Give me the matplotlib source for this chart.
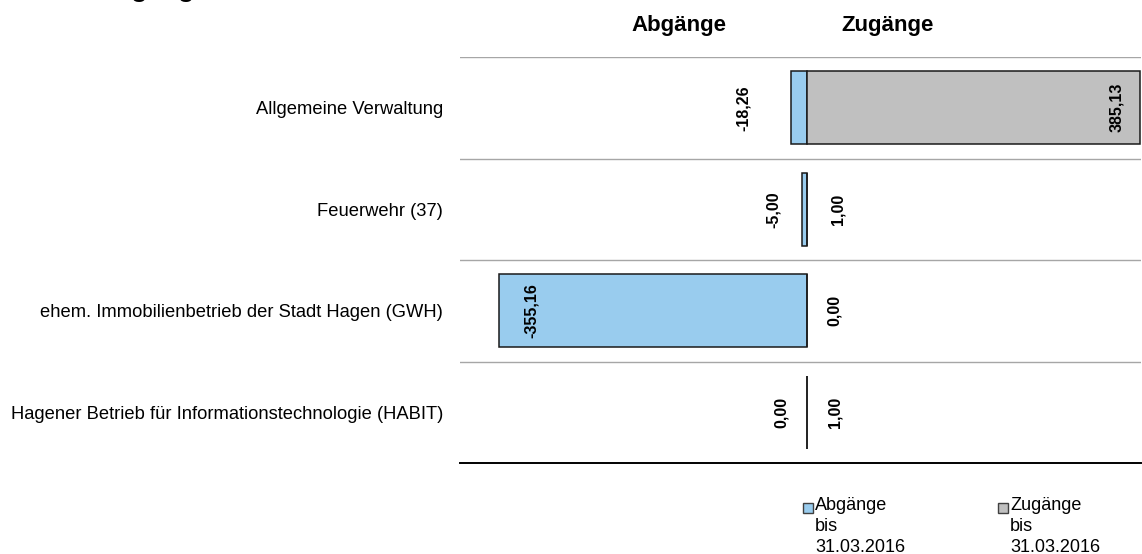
import matplotlib
matplotlib.use('Agg')
import matplotlib.pyplot as plt
from matplotlib.patches import Rectangle
import numpy as np

plt.rcParams['font.family'] = ['Liberation Sans', 'DejaVu Sans']

# Daten
kategorien = ['Allgemeine Verwaltung',
              'Feuerwehr (37)',
              'ehem. Immobilienbetrieb der Stadt Hagen (GWH)',
              'Hagener Betrieb für Informationstechnologie (HABIT)']
abgaenge = [-18.26, -5.00, -355.16, 0.00]
zugaenge = [385.13, 1.00, 0.00, 1.00]
serien = ['Abgänge\nbis\n31.03.2016', 'Zugänge\nbis\n31.03.2016']
kopf = ['Abgänge', 'Zugänge']
titel = 'Zu- und Abgänge'

# Label-Versatz in Pixeln vom Balkenende
off_ab = [-47, -29, 33, -25]
off_zu = [-24, 31, 28, 28]

farbe_ab = '#99CCEE'
farbe_zu = '#C0C0C0'

W, H = 1142, 554
fig = plt.figure(figsize=(W / 100, H / 100), dpi=100)
ax = fig.add_axes([460 / W, 1 - 463 / H, (1141 - 460) / W, (463 - 57) / H])

y = np.arange(len(kategorien))
ax.barh(y, abgaenge, height=0.72, color=farbe_ab, edgecolor='#1a1a1a', linewidth=1.1, zorder=3)
ax.barh(y, zugaenge, height=0.72, color=farbe_zu, edgecolor='#1a1a1a', linewidth=1.1, zorder=3)

def fmt(v):
    return ('%.2f' % v).replace('.', ',')

for i in range(len(kategorien)):
    ax.annotate(fmt(abgaenge[i]), (abgaenge[i], y[i]), xytext=(off_ab[i], 0),
                textcoords='offset pixels', ha='center', va='center',
                rotation=90, fontsize=11.5, fontweight='bold', zorder=4)
    ax.annotate(fmt(zugaenge[i]), (zugaenge[i], y[i]), xytext=(off_zu[i], 0),
                textcoords='offset pixels', ha='center', va='center',
                rotation=90, fontsize=11.5, fontweight='bold', zorder=4)

ax.set_xlim(-400, 386)
ax.set_ylim(len(kategorien) - 0.5, -0.5)
for i in range(len(kategorien)):
    ax.axhline(i - 0.5, color='#A6A6A6', linewidth=1.0, zorder=1)
ax.axhline(len(kategorien) - 0.5, color='black', linewidth=1.4, zorder=2, clip_on=False)

ax.set_yticks(y)
ax.set_yticklabels(kategorien, fontsize=13.2)
ax.tick_params(axis='y', length=0, pad=12)
ax.set_xticks([])
for s in ax.spines.values():
    s.set_visible(False)

# Kopfzeilen
fig.text(679 / W, 1 - 31 / H, kopf[0], ha='center', va='baseline', fontsize=16, fontweight='bold')
fig.text(888 / W, 1 - 31 / H, kopf[1], ha='center', va='baseline', fontsize=16, fontweight='bold')

# abgeschnittener Titel oben links
fig.text(209 / W, 1 + 3.5 / H, titel, ha='right', va='baseline', fontsize=19, fontweight='bold')

# Legende
for x0, farbe, lab in [(803, farbe_ab, serien[0]), (998, farbe_zu, serien[1])]:
    fig.add_artist(Rectangle((x0 / W, 1 - 513 / H), 10 / W, 10 / H, transform=fig.transFigure,
                             facecolor=farbe, edgecolor='#404040', linewidth=1.0))
    fig.text((x0 + 12) / W, 1 - 497 / H, lab, ha='left', va='top', fontsize=13,
             linespacing=1.3, color='black')

fig.savefig('out.png', dpi=100)
